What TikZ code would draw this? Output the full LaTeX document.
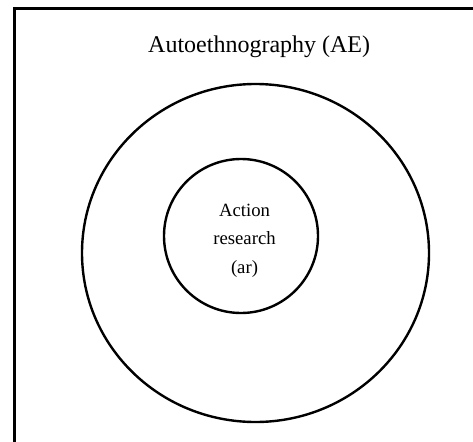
\documentclass[tikz,border=0pt]{standalone}
\usepackage{fontspec}
\setmainfont{Liberation Serif}
\begin{document}
\begin{tikzpicture}[x=1pt,y=1pt,
  ring/.style={draw=black,line width=2.4pt},
  frame/.style={draw=black,line width=2.6pt}]
\useasboundingbox (0,0) rectangle (473,-441);
\clip (0,0) rectangle (473,-441);
\draw[frame] (14.5,-8.5) rectangle (520,-520);
\draw[ring] (255.5,-253) ellipse [x radius=173.5, y radius=169];
\draw[ring] (241,-236) circle [radius=77];
\node[anchor=base west,inner sep=0pt,font=\fontsize{24}{28}\selectfont] (title) at (148,-53) {Autoethnography (AE)};
\node[align=center,inner sep=0pt,font=\fontsize{18.7}{28.5}\selectfont] (inner) at (244.5,-240.5) {Action\\research\\(ar)};
\end{tikzpicture}
\end{document}
